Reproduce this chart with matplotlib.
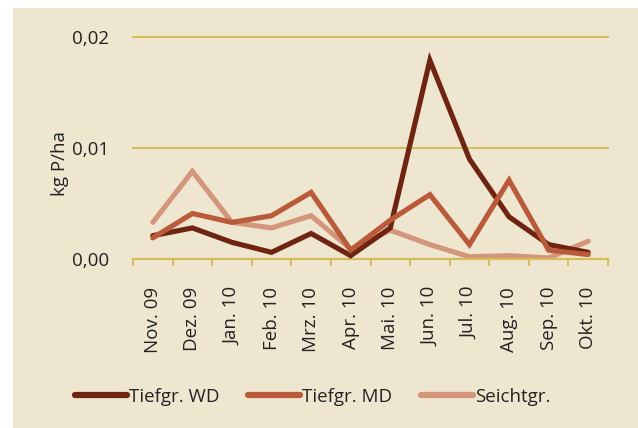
import matplotlib.pyplot as plt
from matplotlib.patches import Rectangle
from matplotlib.ticker import FixedLocator, FuncFormatter

plt.rcParams['font.family'] = ['Open Sans', 'DejaVu Sans']

months = ['Nov. 09', 'Dez. 09', 'Jan. 10', 'Feb. 10', 'Mrz. 10', 'Apr. 10',
          'Mai. 10', 'Jun. 10', 'Jul. 10', 'Aug. 10', 'Sep. 10', 'Okt. 10']

# Phosphor-Austrag je Monat (kg P/ha)
tiefgr_wd = [0.0021, 0.0028, 0.0015, 0.0006, 0.0023, 0.0003,
             0.0028, 0.0179, 0.0090, 0.0038, 0.0013, 0.0006]
tiefgr_md = [0.0019, 0.0041, 0.0033, 0.0039, 0.0060, 0.0008,
             0.0035, 0.0058, 0.0013, 0.0071, 0.0008, 0.0004]
seichtgr = [0.0033, 0.0079, 0.0033, 0.0028, 0.0039, 0.0009,
            0.0026, 0.0013, 0.0002, 0.0003, 0.0001, 0.0016]

bg = '#efe6d0'
gold = '#d4bb5c'

fig = plt.figure(figsize=(6.38, 4.28), dpi=100)
fig.patch.set_facecolor('white')
fig.patches.append(Rectangle((13 / 638, 0), 1, 1 - 8 / 428,
                             transform=fig.transFigure, facecolor=bg,
                             edgecolor='none', zorder=-10))

ax = fig.add_axes([133 / 638, 1 - 259 / 428, 475 / 638, 222 / 428])
ax.set_facecolor('none')

x = range(len(months))
ax.plot(x, tiefgr_wd, color='#6e2410', lw=3.7, solid_capstyle='round',
        solid_joinstyle='miter', label='Tiefgr. WD', zorder=3)
ax.plot(x, tiefgr_md, color='#b95a3a', lw=3.7, solid_capstyle='round',
        solid_joinstyle='miter', label='Tiefgr. MD', zorder=4)
ax.plot(x, seichtgr, color='#d4967b', lw=3.7, solid_capstyle='round',
        solid_joinstyle='miter', label='Seichtgr.', zorder=2)

ax.set_xlim(-0.5, len(months) - 0.5)
ax.set_ylim(0, 0.02)

ax.set_yticks([0, 0.01, 0.02])
ax.yaxis.set_major_formatter(FuncFormatter(lambda v, p: f'{v:.2f}'.replace('.', ',')))
ax.tick_params(axis='y', length=0, pad=17, labelsize=13.5, colors='#222222')
ax.grid(axis='y', color=gold, lw=1.4, zorder=1)
for gl in ax.get_ygridlines():
    gl.set_clip_on(False)

ax.set_xticks(list(x))
ax.set_xticklabels(months, rotation=90)
ax.xaxis.set_minor_locator(FixedLocator([i - 0.5 for i in range(len(months) + 1)]))
ax.tick_params(axis='x', which='major', length=0, pad=20, labelsize=13.5,
               colors='#222222')
ax.tick_params(axis='x', which='minor', length=5, width=1.4, color=gold)

for s in ['top', 'right', 'left']:
    ax.spines[s].set_visible(False)
ax.spines['bottom'].set_color(gold)
ax.spines['bottom'].set_linewidth(1.6)

ax.set_ylabel('kg P/ha', fontsize=13.5, color='#222222')
ax.yaxis.set_label_coords(-0.135, 0.43)

leg = fig.legend(loc='center', bbox_to_anchor=(0.49, 1 - 397 / 428), ncol=3,
                 frameon=False, fontsize=13.5, handlelength=2.8,
                 handletextpad=0.1, columnspacing=1.5)
for line in leg.get_lines():
    line.set_linewidth(4.5)
for t in leg.get_texts():
    t.set_color('#222222')

fig.savefig('out.png', dpi=100)
